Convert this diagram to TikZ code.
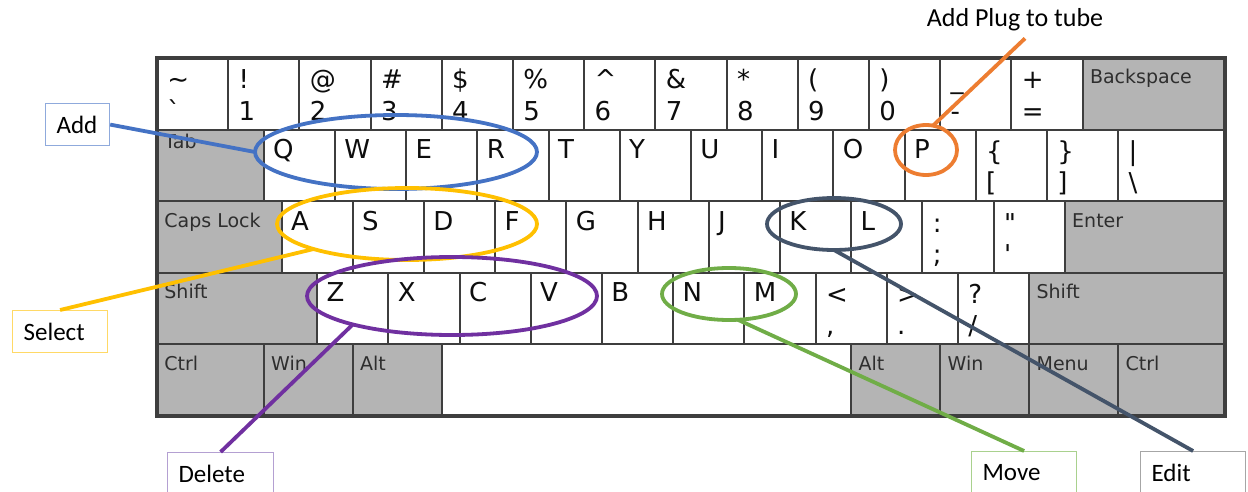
\documentclass[tikz,border=0pt]{standalone}
\usepackage{fontspec}
\newfontfamily\keyfont{DejaVu Sans}
\newfontfamily\calloutfont{Carlito}
\usetikzlibrary{calc,shapes.geometric}

\definecolor{keyline}{RGB}{62,62,62}
\definecolor{modgray}{RGB}{180,180,180}
\definecolor{ringblue}{RGB}{68,114,196}
\definecolor{ringyellow}{RGB}{255,192,0}
\definecolor{ringpurple}{RGB}{112,48,160}
\definecolor{ringgreen}{RGB}{112,173,71}
\definecolor{ringslate}{RGB}{68,84,106}
\definecolor{ringorange}{RGB}{237,125,49}
\definecolor{edgeblue}{RGB}{143,170,220}
\definecolor{edgeyellow}{RGB}{255,217,102}
\definecolor{edgepurple}{RGB}{180,160,210}
\definecolor{edgegreen}{RGB}{169,209,142}
\definecolor{edgegray}{RGB}{166,166,166}

\tikzset{
  keyface/.style={draw=keyline, line width=1pt, fill=white, minimum height=35.8pt,
    inner sep=0pt, outer sep=0pt, anchor=north west},
  modface/.style={keyface, fill=modgray},
  glyph/.style={anchor=base west, inner sep=0pt, text=black!95,
    font=\keyfont\fontsize{13}{15}\selectfont},
  modtext/.style={anchor=base west, inner sep=0pt, text=black!82,
    font=\keyfont\fontsize{9.5}{11}\selectfont},
  ring/.style={ellipse, draw, line width=1.9pt, inner sep=0pt, outer sep=0pt},
  lead/.style={line width=1.9pt},
  callout/.style={draw, line width=0.6pt, fill=white, anchor=north west,
    font=\calloutfont\fontsize{12.5}{15}\selectfont, minimum height=21pt,
    inner xsep=5.5pt, inner ysep=0pt, align=left}
}

% one white key: name, column (key units), row, width (key units)
\newcommand\plainkey[4]{%
  \node[keyface, minimum width={#4*35.6pt}] (#1) at ({157+#2*71.2},{58+#3*71.6}) {};}
% letter key
\newcommand\letterkey[4]{%
  \plainkey{#1}{#2}{#3}{1}%
  \node[glyph] (#1-g) at ($(#1.north west)+(9,29)$) {#4};}
% key with shifted and plain symbol
\newcommand\dualkey[6][1]{%
  \plainkey{#2}{#3}{#4}{#1}%
  \node[glyph] (#2-u) at ($(#2.north west)+(10,31)$) {#5};%
  \node[glyph] (#2-l) at ($(#2.north west)+(10,62)$) {#6};}
% grey modifier key
\newcommand\modkey[6][26]{%
  \node[modface, minimum width={#5*35.6pt}] (#2) at ({157+#3*71.2},{58+#4*71.6}) {};%
  \node[modtext] (#2-t) at ($(#2.north west)+(7,#1)$) {#6};}

\begin{document}
\begin{tikzpicture}[x=0.5pt, y=-0.5pt]
\useasboundingbox (0,0) rectangle (1248,492);
\clip (0,0) rectangle (1248,492);
\fill[white] (0,0) rectangle (1248,492);

% number row
\dualkey{kgrave}{0}{0}{\textasciitilde}{\textasciigrave}
\dualkey{kone}{1}{0}{!}{1}
\dualkey{ktwo}{2}{0}{@}{2}
\dualkey{kthree}{3}{0}{\#}{3}
\dualkey{kfour}{4}{0}{\$}{4}
\dualkey{kfive}{5}{0}{\%}{5}
\dualkey{ksix}{6}{0}{\textasciicircum}{6}
\dualkey{kseven}{7}{0}{\&}{7}
\dualkey{keight}{8}{0}{*}{8}
\dualkey{knine}{9}{0}{(}{9}
\dualkey{kzero}{10}{0}{)}{0}
\dualkey{kminus}{11}{0}{\_}{-}
\dualkey{kequal}{12}{0}{+}{=}
\modkey{kback}{13}{0}{2}{Backspace}

% top letter row
\modkey[19]{ktab}{0}{1}{1.5}{Tab}
\letterkey{kq}{1.5}{1}{Q}
\letterkey{kw}{2.5}{1}{W}
\letterkey{ke}{3.5}{1}{E}
\letterkey{kr}{4.5}{1}{R}
\letterkey{kt}{5.5}{1}{T}
\letterkey{ky}{6.5}{1}{Y}
\letterkey{ku}{7.5}{1}{U}
\letterkey{ki}{8.5}{1}{I}
\letterkey{ko}{9.5}{1}{O}
\letterkey{kp}{10.5}{1}{P}
\dualkey{klbrack}{11.5}{1}{\{}{[}
\dualkey{krbrack}{12.5}{1}{\}}{]}
\dualkey[1.5]{kbslash}{13.5}{1}{|}{\textbackslash}

% home row
\modkey{kcaps}{0}{2}{1.75}{Caps Lock}
\letterkey{ka}{1.75}{2}{A}
\letterkey{ks}{2.75}{2}{S}
\letterkey{kd}{3.75}{2}{D}
\letterkey{kf}{4.75}{2}{F}
\letterkey{kg}{5.75}{2}{G}
\letterkey{kh}{6.75}{2}{H}
\letterkey{kj}{7.75}{2}{J}
\letterkey{kk}{8.75}{2}{K}
\letterkey{kl}{9.75}{2}{L}
\dualkey{ksemi}{10.75}{2}{:}{;}
\dualkey{kquote}{11.75}{2}{"}{'}
\modkey{kenter}{12.75}{2}{2.25}{Enter}

% bottom letter row
\modkey{kshiftl}{0}{3}{2.25}{Shift}
\letterkey{kz}{2.25}{3}{Z}
\letterkey{kx}{3.25}{3}{X}
\letterkey{kc}{4.25}{3}{C}
\letterkey{kv}{5.25}{3}{V}
\letterkey{kb}{6.25}{3}{B}
\letterkey{kn}{7.25}{3}{N}
\letterkey{km}{8.25}{3}{M}
\dualkey{kcomma}{9.25}{3}{<}{,}
\dualkey{kperiod}{10.25}{3}{>}{.}
\dualkey{kslash}{11.25}{3}{?}{/}
\modkey{kshiftr}{12.25}{3}{2.75}{Shift}

% space row
\modkey{kctrll}{0}{4}{1.5}{Ctrl}
\modkey{kwinl}{1.5}{4}{1.25}{Win}
\modkey{kaltl}{2.75}{4}{1.25}{Alt}
\plainkey{kspace}{4}{4}{5.75}
\modkey{kaltr}{9.75}{4}{1.25}{Alt}
\modkey{kwinr}{11}{4}{1.25}{Win}
\modkey{kmenu}{12.25}{4}{1.25}{Menu}
\modkey{kctrlr}{13.5}{4}{1.5}{Ctrl}

% outer frame
\node[draw=keyline, line width=2pt, inner sep=0pt, outer sep=0pt, anchor=north west,
  minimum width=534pt, minimum height=179pt] (frame) at (157,58) {};

% highlighted key groups
\node[ring, draw=ringblue,   minimum width=141pt, minimum height=37pt] (addring)  at (396,152) {};
\node[ring, draw=ringyellow, minimum width=130pt, minimum height=36pt] (selring)  at (407,224) {};
\node[ring, draw=ringpurple, minimum width=145pt, minimum height=39pt] (delring)  at (452,296) {};
\node[ring, draw=ringgreen,  minimum width=67pt,  minimum height=26pt] (movring)  at (729,294) {};
\node[ring, draw=ringslate,  minimum width=67pt,  minimum height=26pt] (editring) at (834,224) {};
\node[ring, draw=ringorange, minimum width=31pt,  minimum height=25pt] (plugring) at (926,150) {};

% callouts
\node[callout, draw=edgeblue,   minimum width=32pt,   text width=21pt]   (addbox)  at (45,103)   {Add};
\node[callout, draw=edgeyellow, minimum width=47.5pt, text width=36.5pt] (selbox)  at (12,310)   {Select};
\node[callout, draw=edgepurple, minimum width=53pt,   text width=42pt]   (delbox)  at (167,452)  {Delete};
\node[callout, draw=edgegreen,  minimum width=52.5pt, text width=41.5pt] (movbox)  at (971,451)  {Move};
\node[callout, draw=edgegray,   minimum width=52.5pt, text width=41.5pt] (editbox) at (1140,451) {Edit};
\node[font=\calloutfont\fontsize{13}{15}\selectfont, inner sep=0pt, minimum height=18pt]
  (plugtext) at (1015,20) {Add Plug to tube};

% leader lines
\draw[lead, ringblue]   (addring.180)  -- (addbox.east);
\draw[lead, ringyellow] (selring.195)  -- (selbox.north);
\draw[lead, ringpurple] (delring.196)  -- (delbox.north);
\draw[lead, ringgreen]  (movring.289)  -- (movbox.north);
\draw[lead, ringslate]  (editring.270) -- (editbox.north);
\draw[lead, ringorange] (plugring.74)  -- ([xshift=5pt]plugtext.south);
\end{tikzpicture}
\end{document}
